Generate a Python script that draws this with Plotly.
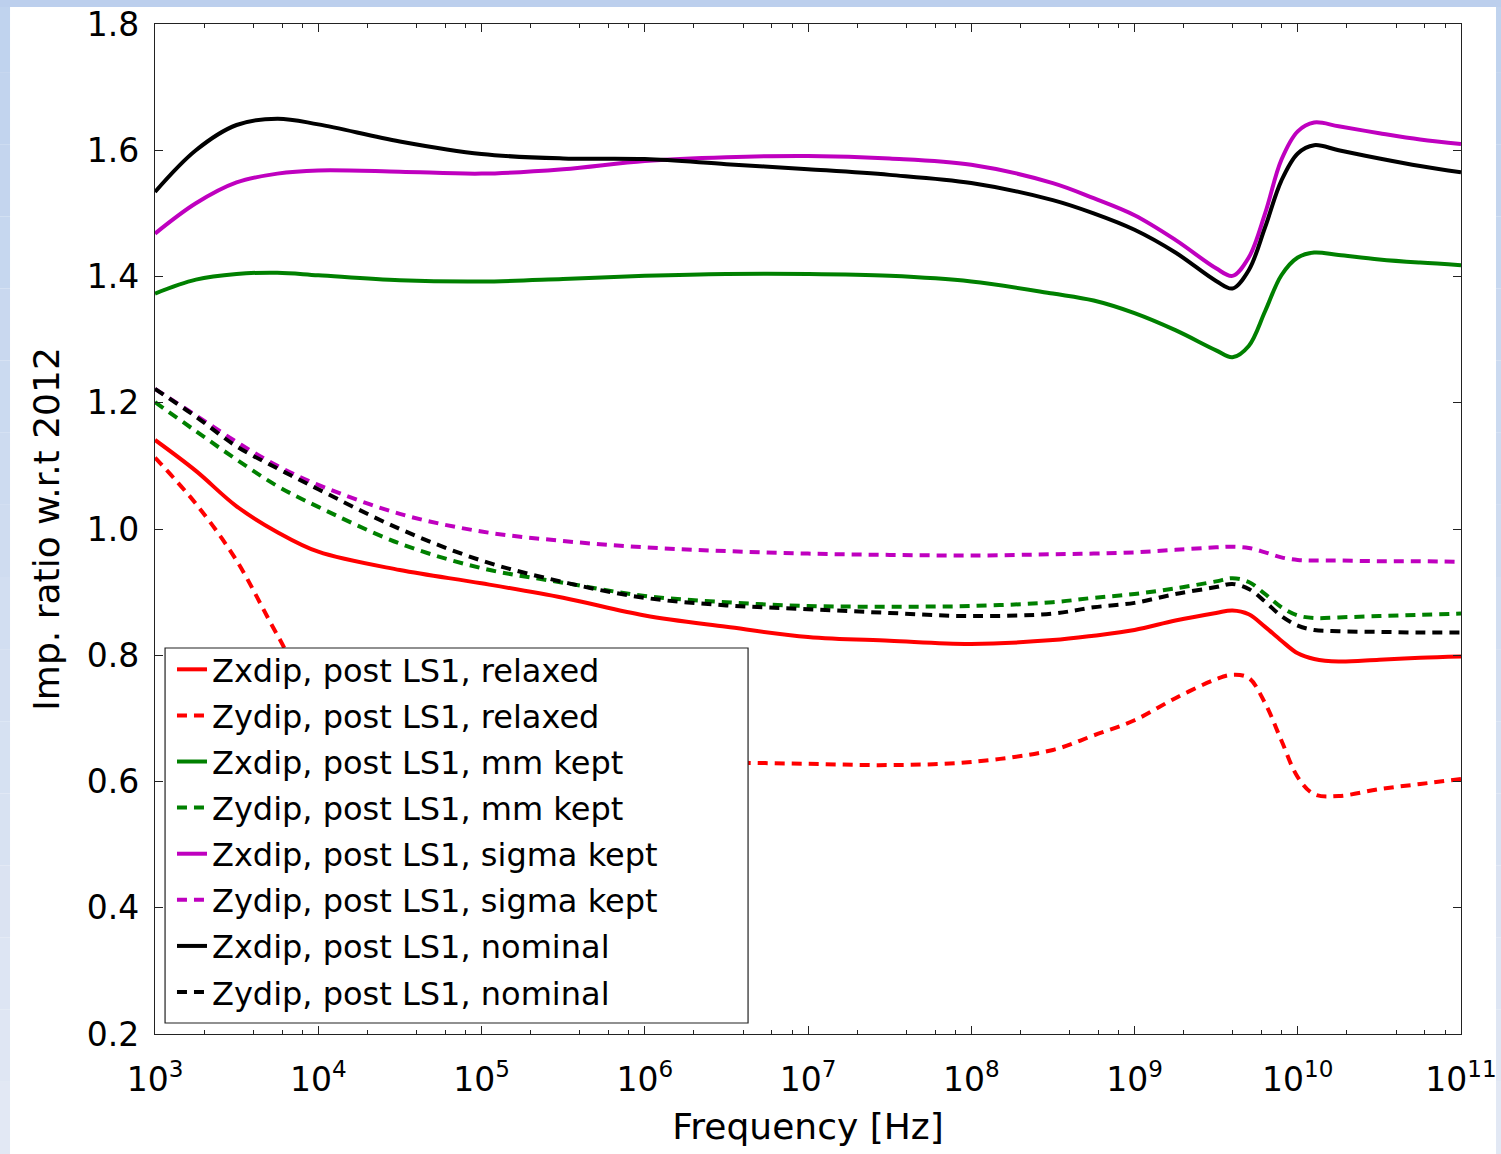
import plotly.graph_objects as go

# Frequency sample points [Hz]
freq_hz = [1.0e3, 1.78e3, 3.16e3, 5.62e3, 1.0e4, 3.16e4, 1.0e5, 3.16e5, 1.0e6, 3.16e6,
           1.0e7, 3.16e7, 1.0e8, 3.16e8, 5.62e8, 1.0e9, 1.78e9, 3.16e9, 3.98e9, 5.01e9,
           6.31e9, 7.94e9, 1.0e10, 1.26e10, 1.78e10, 3.16e10, 5.62e10, 1.0e11]

# Impedance ratios with respect to 2012
zx_relaxed = [1.141, 1.092, 1.036, 0.995, 0.964, 0.935, 0.914, 0.891, 0.863, 0.845,
              0.829, 0.823, 0.818, 0.824, 0.831, 0.840, 0.855, 0.867, 0.871, 0.865,
              0.845, 0.823, 0.803, 0.794, 0.790, 0.793, 0.796, 0.798]
zy_relaxed = [1.113, 1.040, 0.950, 0.832, 0.725, 0.655, 0.640, 0.634, 0.631, 0.630,
              0.628, 0.626, 0.631, 0.650, 0.673, 0.697, 0.732, 0.762, 0.769, 0.764,
              0.724, 0.665, 0.607, 0.580, 0.577, 0.588, 0.596, 0.604]
zx_mm = [1.373, 1.395, 1.404, 1.406, 1.402, 1.394, 1.392, 1.396, 1.401, 1.404,
         1.404, 1.401, 1.392, 1.373, 1.362, 1.342, 1.315, 1.283, 1.272, 1.290,
         1.345, 1.402, 1.430, 1.438, 1.434, 1.427, 1.422, 1.418]
zy_mm = [1.201, 1.155, 1.110, 1.068, 1.035, 0.977, 0.938, 0.915, 0.894, 0.884,
         0.878, 0.877, 0.878, 0.884, 0.891, 0.897, 0.906, 0.917, 0.922, 0.916,
         0.897, 0.876, 0.863, 0.859, 0.860, 0.862, 0.864, 0.866]
zx_sigma = [1.468, 1.516, 1.549, 1.563, 1.568, 1.566, 1.563, 1.570, 1.583, 1.589,
            1.591, 1.587, 1.577, 1.548, 1.524, 1.497, 1.458, 1.413, 1.401, 1.430,
            1.500, 1.585, 1.630, 1.644, 1.638, 1.627, 1.617, 1.610]
zy_sigma = [1.222, 1.180, 1.138, 1.100, 1.070, 1.024, 0.996, 0.981, 0.971, 0.965,
            0.961, 0.959, 0.958, 0.960, 0.961, 0.963, 0.967, 0.971, 0.972, 0.970,
            0.963, 0.955, 0.951, 0.950, 0.950, 0.949, 0.949, 0.948]
zx_nominal = [1.534, 1.600, 1.640, 1.650, 1.641, 1.614, 1.594, 1.587, 1.586, 1.578,
              1.570, 1.561, 1.548, 1.521, 1.500, 1.474, 1.438, 1.393, 1.381, 1.410,
              1.478, 1.552, 1.595, 1.608, 1.600, 1.587, 1.575, 1.565]
zy_nominal = [1.222, 1.178, 1.131, 1.096, 1.063, 1.000, 0.950, 0.916, 0.891, 0.879,
              0.873, 0.867, 0.862, 0.866, 0.876, 0.883, 0.897, 0.908, 0.913, 0.905,
              0.885, 0.862, 0.847, 0.840, 0.838, 0.837, 0.836, 0.836]

series = [
    ("Zxdip, post LS1, relaxed", zx_relaxed, "#ff0000", "solid"),
    ("Zydip, post LS1, relaxed", zy_relaxed, "#ff0000", "dash"),
    ("Zxdip, post LS1, mm kept", zx_mm, "#008000", "solid"),
    ("Zydip, post LS1, mm kept", zy_mm, "#008000", "dash"),
    ("Zxdip, post LS1, sigma kept", zx_sigma, "#bf00bf", "solid"),
    ("Zydip, post LS1, sigma kept", zy_sigma, "#bf00bf", "dash"),
    ("Zxdip, post LS1, nominal", zx_nominal, "#000000", "solid"),
    ("Zydip, post LS1, nominal", zy_nominal, "#000000", "dash"),
]

# Axis ticks
x_tickvals = [1e3, 1e4, 1e5, 1e6, 1e7, 1e8, 1e9, 1e10, 1e11]
x_ticktext = ["10<sup>3</sup>", "10<sup>4</sup>", "10<sup>5</sup>", "10<sup>6</sup>",
              "10<sup>7</sup>", "10<sup>8</sup>", "10<sup>9</sup>", "10<sup>10</sup>",
              "10<sup>11</sup>"]
x_minor = [m * d for d in x_tickvals[:-1] for m in (2, 4, 6, 8)]
y_tickvals = [0.2, 0.4, 0.6, 0.8, 1.0, 1.2, 1.4, 1.6, 1.8]

FONT = "DejaVu Sans, Verdana, sans-serif"
AX = "#222222"

fig = go.Figure()
for i, (name, vals, color, dash) in enumerate(series):
    fig.add_trace(go.Scatter(
        x=freq_hz, y=vals, name=name, mode="lines",
        legendgroup=f"g{i}",
        line=dict(color=color, width=4,
                  dash="solid" if dash == "solid" else "10px,7px",
                  shape="spline", smoothing=1.0),
    ))

# light blue frame around the page
shapes = []
n = 16
for k in range(n):
    t = k / (n - 1)
    r = int(192 + (226 - 192) * t)
    g = int(211 + (232 - 211) * t)
    b = int(238 + (244 - 238) * t)
    y0 = 1.0238 - (1.0238 + 0.1188) * k / n
    y1 = 1.0238 - (1.0238 + 0.1188) * (k + 1) / n
    col = f"rgb({r},{g},{b})"
    shapes.append(dict(type="rect", xref="paper", yref="paper",
                       x0=-0.1187, x1=-0.1110, y0=y1, y1=y0,
                       fillcolor=col, line=dict(width=0), layer="below"))
    shapes.append(dict(type="rect", xref="paper", yref="paper",
                       x0=1.0268, x1=1.0310, y0=y1, y1=y0,
                       fillcolor=col, line=dict(width=0), layer="below"))
shapes.append(dict(type="rect", xref="paper", yref="paper",
                   x0=-0.1187, x1=1.0310, y0=1.0168, y1=1.0240,
                   fillcolor="rgb(188,207,237)", line=dict(width=0), layer="below"))

# opaque legend frame drawn over the curves; the legend entries sit on top of it
shapes.append(dict(type="rect", xref="paper", yref="paper",
                   x0=0.0077, x1=0.4541, y0=0.0109, y1=0.3822,
                   fillcolor="white", line=dict(color="#222222", width=1.2),
                   layer="above"))

fig.update_layout(
    width=1501, height=1154,
    margin=dict(l=155, r=40, t=24, b=120, autoexpand=False),
    paper_bgcolor="white", plot_bgcolor="white",
    font=dict(family=FONT, color="black", size=33),
    shapes=shapes,
    showlegend=True,
    legend=dict(
        x=0.0130, y=0.3881, xanchor="left", yanchor="top",
        bgcolor="rgba(0,0,0,0)", borderwidth=0,
        font=dict(family=FONT, size=32, color="black"),
        traceorder="grouped", tracegroupgap=1.5,
    ),
    xaxis=dict(
        type="log", range=[3, 11], automargin=False,
        tickmode="array", tickvals=x_tickvals, ticktext=x_ticktext,
        ticks="inside", ticklen=8, tickwidth=1.2, tickcolor=AX,
        showline=True, linecolor=AX, linewidth=1.3, mirror="ticks",
        showgrid=False, zeroline=False,
        tickfont=dict(size=33),
        ticklabelstandoff=16,
        minor=dict(tickmode="array", tickvals=x_minor, ticks="inside",
                   ticklen=4, tickwidth=1, tickcolor=AX, showgrid=False),
        title=dict(text="Frequency [Hz]", font=dict(size=36), standoff=16),
    ),
    yaxis=dict(
        range=[0.2, 1.8], automargin=False,
        tickmode="array", tickvals=y_tickvals, tickformat=".1f",
        ticks="inside", ticklen=8, tickwidth=1.2, tickcolor=AX,
        showline=True, linecolor=AX, linewidth=1.3, mirror="ticks",
        showgrid=False, zeroline=False,
        tickfont=dict(size=33),
        ticklabelstandoff=8,
        title=dict(text="Imp. ratio w.r.t 2012", font=dict(size=36), standoff=16),
    ),
)

fig.write_html("out.html")
